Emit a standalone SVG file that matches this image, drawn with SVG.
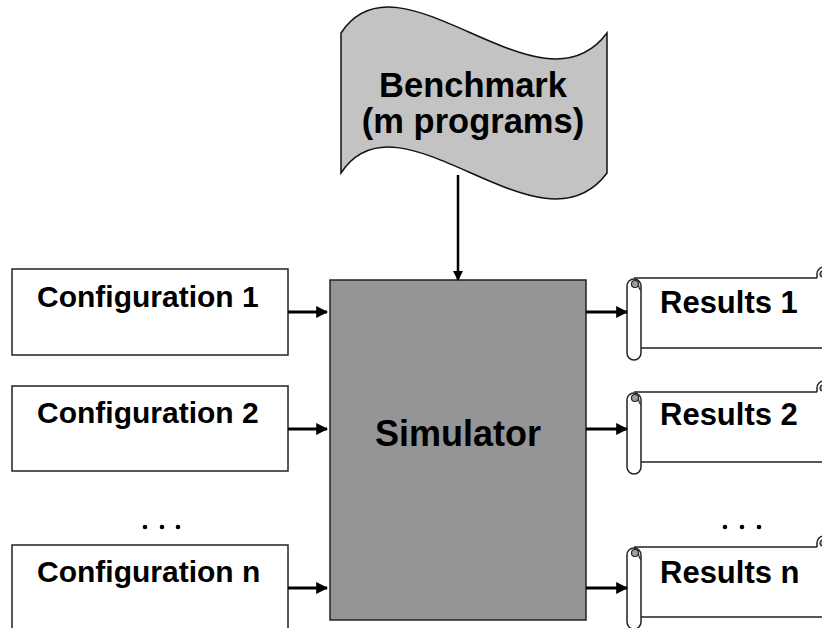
<svg xmlns="http://www.w3.org/2000/svg" width="822" height="628" viewBox="0 0 822 628">
  <style>
    .lbl { font-family: "Liberation Sans", Arial, Helvetica, sans-serif; font-weight: bold; fill: #000; }
    .box { fill: #fff; stroke: #222; stroke-width: 1.5; }
    .scroll { fill: #fff; stroke: #222; stroke-width: 1.5; stroke-linejoin: round; }
    .curl { fill: #a0a0a0; stroke: #222; stroke-width: 1.2; }
    .edge { stroke: #000; stroke-width: 3; fill: none; }
    .dot { fill: #000; }
  </style>
  <defs>
    <marker id="arrow" viewBox="0 0 10 10" refX="9" refY="5" markerWidth="4" markerHeight="4" orient="auto" markerUnits="strokeWidth">
      <path d="M0,0 L10,5 L0,10 Z" fill="#000"/>
    </marker>
    <!-- horizontal scroll shape, origin at left roll's left edge / body top -->
    <g id="scrollShape">
      <path class="scroll" d="M7,0 L200,0 L200,70 L14,70"/>
      <path class="scroll" d="M190,0 V-4 A7,7 0 0 1 204,-4 V70"/>
      <circle class="curl" cx="196" cy="-4" r="3"/>
      <path class="scroll" d="M0,8 A7,7 0 0 1 14,8 V75 A7,7 0 0 1 0,75 Z"/>
      <circle class="curl" cx="8" cy="6" r="3.5"/>
      <path fill="none" stroke="#222" stroke-width="1.2" d="M11.5,6 Q12,12 14,12"/>
    </g>
  </defs>

  <rect width="822" height="628" fill="#fff"/>

  <g id="benchmark">
    <path d="M341,33 C400,-57 540,123 607,33 L607,173 C540,263 400,83 341,173 Z" fill="#c3c3c3" stroke="#111" stroke-width="1.5"/>
    <text class="lbl" x="473" y="97" font-size="34.5" text-anchor="middle">Benchmark</text>
    <text class="lbl" x="473" y="133" font-size="34.5" text-anchor="middle">(m programs)</text>
  </g>

  <g id="simulator">
    <rect x="330" y="280" width="256" height="340" fill="#959595" stroke="#222" stroke-width="1.5"/>
    <text class="lbl" x="458" y="446" font-size="36" text-anchor="middle">Simulator</text>
  </g>

  <g id="config1">
    <rect class="box" x="12" y="269" width="276" height="86"/>
    <text class="lbl" x="37" y="307" font-size="30">Configuration 1</text>
  </g>
  <g id="config2">
    <rect class="box" x="12" y="386" width="276" height="85"/>
    <text class="lbl" x="37" y="423" font-size="30">Configuration 2</text>
  </g>
  <g id="confign">
    <rect class="box" x="12" y="545" width="276" height="100"/>
    <text class="lbl" x="37" y="582" font-size="30">Configuration n</text>
  </g>

  <g id="config-dots">
    <circle class="dot" cx="145" cy="527" r="2.3"/>
    <circle class="dot" cx="162" cy="527" r="2.3"/>
    <circle class="dot" cx="178" cy="527" r="2.3"/>
  </g>

  <g id="results1">
    <use href="#scrollShape" x="627" y="278"/>
    <text class="lbl" x="660" y="313" font-size="31">Results 1</text>
  </g>
  <g id="results2">
    <use href="#scrollShape" x="627" y="392"/>
    <text class="lbl" x="660" y="425" font-size="31">Results 2</text>
  </g>
  <g id="resultsn">
    <use href="#scrollShape" x="627" y="547"/>
    <text class="lbl" x="660" y="583" font-size="31">Results n</text>
  </g>

  <g id="result-dots">
    <circle class="dot" cx="725" cy="527" r="2.3"/>
    <circle class="dot" cx="742" cy="527" r="2.3"/>
    <circle class="dot" cx="759" cy="527" r="2.3"/>
  </g>

  <g id="connectors">
    <line x1="458" y1="175" x2="458" y2="280" stroke="#000" stroke-width="2.5" marker-end="url(#arrow)"/>
    <line class="edge" x1="288" y1="312" x2="327" y2="312" marker-end="url(#arrow)"/>
    <line class="edge" x1="288" y1="429" x2="327" y2="429" marker-end="url(#arrow)"/>
    <line class="edge" x1="288" y1="588" x2="327" y2="588" marker-end="url(#arrow)"/>
    <line class="edge" x1="586" y1="312" x2="627" y2="312" marker-end="url(#arrow)"/>
    <line class="edge" x1="586" y1="429" x2="627" y2="429" marker-end="url(#arrow)"/>
    <line class="edge" x1="586" y1="588" x2="627" y2="588" marker-end="url(#arrow)"/>
  </g>
</svg>
